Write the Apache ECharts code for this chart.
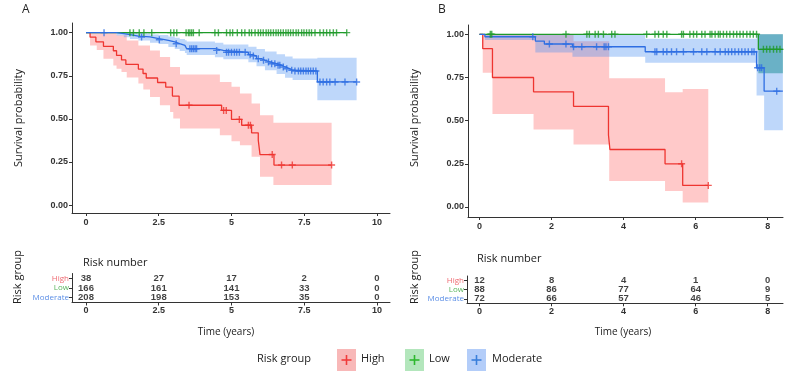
<!DOCTYPE html>
<html><head><meta charset="utf-8">
<script src="https://cdn.jsdelivr.net/npm/echarts@6/dist/echarts.min.js"></script>
<style>html,body{margin:0;padding:0;background:#fff}#c{width:802px;height:385px}</style>
</head><body><div id="c"></div>
<script>
// ===================== DATA =====================
const groups = ['High', 'Low', 'Moderate'];
const yTicks = [0, 0.25, 0.5, 0.75, 1];
const aXTicks = [0, 2.5, 5, 7.5, 10];
const bXTicks = [0, 2, 4, 6, 8];

// ---- Panel A ----
const aHighT = [0, 0.14, 0.34, 0.60, 0.94, 1.05, 1.22, 1.37, 1.80, 1.96, 2.07, 2.46, 2.74, 2.97, 3.20, 4.66, 5.00, 5.35, 5.69, 5.92, 5.98, 6.46, 8.44];
const aHighS = [1, 0.974, 0.947, 0.921, 0.895, 0.868, 0.842, 0.816, 0.789, 0.763, 0.737, 0.711, 0.684, 0.632, 0.579, 0.549, 0.497, 0.463, 0.419, 0.376, 0.293, 0.232, 0.232];
const aHighCens = [3.54, 4.73, 4.82, 5.27, 5.58, 5.65, 6.40, 6.72, 7.09, 8.44];
const aHighBandT = [0.14, 0.37, 0.60, 0.94, 1.05, 1.22, 1.40, 1.80, 1.97, 2.20, 2.54, 2.89, 3.00, 3.23, 4.60, 5.00, 5.29, 5.69, 5.98, 6.44, 8.44];
const aHighBandLo = [0.926, 0.90, 0.849, 0.81, 0.79, 0.772, 0.74, 0.705, 0.67, 0.627, 0.579, 0.54, 0.502, 0.444, 0.405, 0.37, 0.347, 0.28, 0.164, 0.116];
const aHighBandHi = [1, 1, 1, 1, 0.985, 0.985, 0.955, 0.926, 0.926, 0.897, 0.859, 0.801, 0.801, 0.757, 0.714, 0.686, 0.647, 0.589, 0.521, 0.477];

const aLowT = [0, 8.96];
const aLowS = [1, 1];
const aLowCens = [1.51, 1.63, 1.83, 1.99, 2.26, 2.91, 3.02, 3.12, 3.44, 3.52, 3.57, 3.63, 3.69, 3.89, 4.43, 4.55, 4.83, 4.95, 5.04, 5.20, 5.35, 5.46, 5.61, 5.69, 5.81, 5.92, 6.00, 6.09, 6.19, 6.27, 6.35, 6.44, 6.53, 6.61, 6.69, 6.78, 6.87, 6.95, 7.03, 7.12, 7.22, 7.30, 7.41, 7.49, 7.58, 7.67, 7.75, 7.87, 8.04, 8.16, 8.27, 8.38, 8.50, 8.61, 8.96];

const aModT = [0, 1.05, 1.30, 1.51, 1.80, 2.20, 2.50, 2.70, 2.83, 3.05, 3.22, 3.40, 3.46, 4.43, 4.72, 5.58, 5.70, 5.86, 6.03, 6.15, 6.32, 6.55, 6.72, 6.84, 7.00, 7.10, 7.95, 9.30];
const aModS = [1, 0.994, 0.988, 0.980, 0.975, 0.965, 0.959, 0.955, 0.946, 0.936, 0.926, 0.917, 0.907, 0.897, 0.886, 0.872, 0.865, 0.849, 0.840, 0.830, 0.820, 0.811, 0.801, 0.791, 0.782, 0.778, 0.714, 0.714];
const aModCens = [0.62, 1.91, 2.52, 3.10, 3.57, 3.63, 3.69, 3.75, 3.80, 4.49, 4.83, 4.90, 5.00, 5.10, 5.18, 5.27, 5.47, 5.64, 5.75, 5.92, 6.10, 6.27, 6.38, 6.49, 6.60, 6.66, 6.78, 6.90, 7.07, 7.18, 7.30, 7.38, 7.47, 7.56, 7.64, 7.72, 7.81, 7.90, 8.04, 8.15, 8.27, 8.38, 8.56, 8.90, 9.30];
const aModBandT = [1.05, 1.30, 1.51, 1.80, 2.20, 2.50, 2.83, 3.05, 3.22, 3.40, 3.46, 4.43, 4.72, 5.58, 5.86, 6.15, 6.55, 6.84, 7.10, 7.95, 9.30];
const aModBandLo = [0.983, 0.973, 0.963, 0.955, 0.942, 0.934, 0.917, 0.905, 0.893, 0.882, 0.870, 0.858, 0.846, 0.828, 0.805, 0.782, 0.760, 0.738, 0.725, 0.608];
const aModBandHi = [1.0, 1.0, 0.998, 0.995, 0.99, 0.986, 0.978, 0.971, 0.963, 0.956, 0.949, 0.941, 0.932, 0.918, 0.905, 0.89, 0.875, 0.862, 0.85, 0.855];

// ---- Panel B ----
const bHighT = [0, 0.09, 0.36, 1.50, 2.61, 3.58, 3.62, 5.15, 5.64, 6.35];
const bHighS = [1, 0.917, 0.75, 0.667, 0.583, 0.417, 0.333, 0.25, 0.125, 0.125];
const bHighCens = [5.61, 6.35];
const bHighBandT = [0.09, 0.36, 1.50, 2.61, 3.60, 5.15, 5.64, 6.35];
const bHighBandLo = [0.777, 0.538, 0.449, 0.362, 0.151, 0.093, 0.026];
const bHighBandHi = [1.0, 1.0, 1.0, 0.96, 0.745, 0.665, 0.683];

const bLowT = [0, 7.74, 8.42];
const bLowS = [1, 0.913, 0.913];
const bLowCens = [0.30, 0.34, 2.40, 2.98, 3.05, 3.21, 3.30, 3.44, 3.67, 3.76, 4.64, 4.87, 4.97, 5.10, 5.20, 5.61, 5.66, 5.84, 5.94, 6.03, 6.17, 6.26, 6.40, 6.45, 6.54, 6.63, 6.68, 6.77, 6.86, 6.95, 7.05, 7.14, 7.23, 7.32, 7.42, 7.51, 7.60, 7.69, 7.88, 7.97, 8.06, 8.16, 8.25, 8.34];
const bLowBandT = [7.74, 8.42];
const bLowBandLo = [0.774];
const bLowBandHi = [1.0];

const bModT = [0, 0.15, 1.55, 1.80, 2.58, 4.60, 7.69, 7.90, 8.42];
const bModS = [1, 0.986, 0.961, 0.944, 0.928, 0.899, 0.806, 0.671, 0.671];
const bModCens = [1.48, 1.94, 2.40, 2.61, 2.84, 3.25, 3.46, 3.51, 3.58, 4.87, 4.92, 5.10, 5.20, 5.33, 5.47, 5.66, 5.94, 6.17, 6.31, 6.54, 6.68, 6.82, 6.91, 7.00, 7.09, 7.19, 7.28, 7.37, 7.46, 7.56, 7.62, 7.72, 7.78, 7.83, 8.25];
const bModBandT = [0.15, 1.55, 2.58, 4.60, 7.69, 7.90, 8.42];
const bModBandLo = [0.967, 0.895, 0.870, 0.835, 0.645, 0.445];
const bModBandHi = [1.0, 1.0, 1.0, 0.975, 1.0, 1.0];

// ---- Risk tables ----
const aRiskTimes = [0, 2.5, 5, 7.5, 10];
const aRiskHigh = [38, 27, 17, 2, 0];
const aRiskLow = [166, 161, 141, 33, 0];
const aRiskMod = [208, 198, 153, 35, 0];
const bRiskTimes = [0, 2, 4, 6, 8];
const bRiskHigh = [12, 8, 4, 1, 0];
const bRiskLow = [88, 86, 77, 64, 9];
const bRiskMod = [72, 66, 57, 46, 5];

// ===================== STYLE =====================
const LINE = {High: '#EE3530', Low: '#1F9A2A', Moderate: '#2E6EE2'};
const BAND = {High: 'rgba(255,100,100,0.35)', Low: 'rgba(20,150,110,0.55)', Moderate: 'rgba(70,140,240,0.35)'};
const KEYFILL = {High: '#F8B8B8', Low: '#B3E6BC', Moderate: '#B3CDF9'};
const KEYPLUS = {High: '#F03C3C', Low: '#2EB82E', Moderate: '#3A7FDB'};
const LABELC = {High: '#EF6A72', Low: '#5AB55E', Moderate: '#5B8EE6'};
const PLUS = 'path://M4,0H6V4H10V6H6V10H4V6H0V4H4Z';
const AX = '#333';
const tickFont = {fontSize: 9, fontWeight: 'bold', color: '#333', fontFamily: "'Liberation Sans', Arial, sans-serif"};
const tableFont = "'Liberation Sans Narrow','Liberation Sans', Arial, sans-serif";
const textFont = "'Open Sans','Noto Sans', sans-serif";

function steps(T, S) { return T.map((t, i) => [t, S[i]]); }
function survAt(T, S, t) { let v = S[0]; for (let i = 0; i < T.length; i++) { if (T[i] <= t + 1e-9) v = S[i]; } return v; }
function bandRender(T, lo, hi, color) {
  return function (params, api) {
    const pts = [];
    for (let i = 0; i < lo.length; i++) { pts.push(api.coord([T[i], hi[i]])); pts.push(api.coord([T[i + 1], hi[i]])); }
    for (let i = lo.length - 1; i >= 0; i--) { pts.push(api.coord([T[i + 1], lo[i]])); pts.push(api.coord([T[i], lo[i]])); }
    return {type: 'polygon', shape: {points: pts}, style: {fill: color}};
  };
}

const series = [];
function addPanel(idx, spec) {
  spec.forEach(g => {
    if (!g.bandT) return;
    series.push({type: 'custom', xAxisIndex: idx, yAxisIndex: idx, data: [[0, 0]], silent: true, z: 1, clip: true,
      renderItem: bandRender(g.bandT, g.bandLo, g.bandHi, BAND[g.name])});
  });
  spec.forEach(g => {
    series.push({type: 'line', name: g.name, xAxisIndex: idx, yAxisIndex: idx, data: steps(g.T, g.S), step: 'end',
      showSymbol: false, symbol: 'none', z: 2, lineStyle: {color: LINE[g.name], width: 1.3}, itemStyle: {color: LINE[g.name]}});
  });
  spec.forEach(g => {
    series.push({type: 'scatter', xAxisIndex: idx, yAxisIndex: idx, symbol: PLUS, symbolSize: 7, z: 3,
      itemStyle: {color: LINE[g.name]}, data: g.C.map(t => [t, survAt(g.T, g.S, t)])});
  });
}
addPanel(0, [
  {name: 'High', T: aHighT, S: aHighS, C: aHighCens, bandT: aHighBandT, bandLo: aHighBandLo, bandHi: aHighBandHi},
  {name: 'Low', T: aLowT, S: aLowS, C: aLowCens},
  {name: 'Moderate', T: aModT, S: aModS, C: aModCens, bandT: aModBandT, bandLo: aModBandLo, bandHi: aModBandHi}
]);
addPanel(1, [
  {name: 'High', T: bHighT, S: bHighS, C: bHighCens, bandT: bHighBandT, bandLo: bHighBandLo, bandHi: bHighBandHi},
  {name: 'Low', T: bLowT, S: bLowS, C: bLowCens, bandT: bLowBandT, bandLo: bLowBandLo, bandHi: bLowBandHi},
  {name: 'Moderate', T: bModT, S: bModS, C: bModCens, bandT: bModBandT, bandLo: bModBandLo, bandHi: bModBandHi}
]);
function addTable(idx, times, rows) {
  rows.forEach(r => {
    series.push({type: 'scatter', xAxisIndex: idx, yAxisIndex: idx, symbolSize: 1, itemStyle: {color: 'rgba(0,0,0,0)'},
      data: times.map((t, i) => [t, r.name, r.n[i]]),
      label: {show: true, position: 'inside', formatter: p => String(p.value[2]), fontSize: 9.5, fontWeight: 'bold',
        color: '#111', fontFamily: tableFont}});
  });
}
addTable(2, aRiskTimes, [{name: 'High', n: aRiskHigh}, {name: 'Low', n: aRiskLow}, {name: 'Moderate', n: aRiskMod}]);
addTable(3, bRiskTimes, [{name: 'High', n: bRiskHigh}, {name: 'Low', n: bRiskLow}, {name: 'Moderate', n: bRiskMod}]);

function xAxisCfg(gi, min, max, ticks, table) {
  return {type: 'value', gridIndex: gi, min: min, max: max, splitLine: {show: false},
    axisLine: {show: true, onZero: false, lineStyle: {color: AX, width: 1}},
    axisTick: {show: true, customValues: ticks, length: 3, lineStyle: {color: AX}},
    axisLabel: Object.assign({customValues: ticks, margin: table ? 4 : 5, formatter: v => String(v)}, tickFont,
      table ? {fontFamily: tableFont} : {})};
}
function yAxisCfg(gi, min, max) {
  return {type: 'value', gridIndex: gi, min: min, max: max, splitLine: {show: false},
    axisLine: {show: true, onZero: false, lineStyle: {color: AX, width: 1}},
    axisTick: {show: true, customValues: yTicks, length: 3, lineStyle: {color: AX}},
    axisLabel: Object.assign({customValues: yTicks, margin: 4, formatter: v => v.toFixed(2)}, tickFont)};
}
function catAxisCfg(gi) {
  return {type: 'category', gridIndex: gi, data: groups, inverse: true,
    axisLine: {show: true, onZero: false, lineStyle: {color: AX, width: 1}},
    axisTick: {show: true, alignWithLabel: true, interval: 0, length: 3, lineStyle: {color: AX}},
    axisLabel: {margin: 3, interval: 0, hideOverlap: false, fontSize: 8, fontFamily: textFont, color: v => LABELC[v]}};
}

const legendItems = [
  {name: 'High', x: 337, tx: 361},
  {name: 'Low', x: 405, tx: 429},
  {name: 'Moderate', x: 467, tx: 492}
];
const graphic = [
  {type: 'text', x: 22, y: 4, style: {text: 'A', fontSize: 12, fontFamily: textFont, fill: '#222'}},
  {type: 'text', x: 438, y: 4, style: {text: 'B', fontSize: 12, fontFamily: textFont, fill: '#222'}},
  {type: 'text', x: 19, y: 118, rotation: Math.PI / 2, style: {text: 'Survival probability', fontSize: 11, fontFamily: textFont, fill: '#222', align: 'center', verticalAlign: 'middle'}},
  {type: 'text', x: 415, y: 118, rotation: Math.PI / 2, style: {text: 'Survival probability', fontSize: 11, fontFamily: textFont, fill: '#222', align: 'center', verticalAlign: 'middle'}},
  {type: 'text', x: 18, y: 277, rotation: Math.PI / 2, style: {text: 'Risk group', fontSize: 11, fontFamily: textFont, fill: '#222', align: 'center', verticalAlign: 'middle'}},
  {type: 'text', x: 415, y: 277, rotation: Math.PI / 2, style: {text: 'Risk group', fontSize: 11, fontFamily: textFont, fill: '#222', align: 'center', verticalAlign: 'middle'}},
  {type: 'text', x: 83, y: 263, style: {text: 'Risk number', fontSize: 11, fontFamily: textFont, fill: '#222', align: 'left', verticalAlign: 'middle'}},
  {type: 'text', x: 477, y: 259, style: {text: 'Risk number', fontSize: 11, fontFamily: textFont, fill: '#222', align: 'left', verticalAlign: 'middle'}},
  {type: 'text', x: 226, y: 332, style: {text: 'Time (years)', fontSize: 10, fontFamily: textFont, fill: '#222', align: 'center', verticalAlign: 'middle'}},
  {type: 'text', x: 623, y: 332, style: {text: 'Time (years)', fontSize: 10, fontFamily: textFont, fill: '#222', align: 'center', verticalAlign: 'middle'}},
  {type: 'text', x: 257, y: 359, style: {text: 'Risk group', fontSize: 11, fontFamily: textFont, fill: '#222', align: 'left', verticalAlign: 'middle'}}
];
legendItems.forEach(it => {
  graphic.push({type: 'rect', shape: {x: it.x, y: 349, width: 19, height: 22}, style: {fill: KEYFILL[it.name]}});
  graphic.push({type: 'rect', shape: {x: it.x + 4.5, y: 359.2, width: 10, height: 1.6}, style: {fill: KEYPLUS[it.name]}});
  graphic.push({type: 'rect', shape: {x: it.x + 8.7, y: 355, width: 1.6, height: 10}, style: {fill: KEYPLUS[it.name]}});
  graphic.push({type: 'text', x: it.tx, y: 359, style: {text: it.name, fontSize: 11, fontFamily: textFont, fill: '#222', align: 'left', verticalAlign: 'middle'}});
});

const option = {
  animation: false,
  backgroundColor: '#fff',
  grid: [
    {left: 72, top: 23, width: 318, height: 190},
    {left: 468, top: 25, width: 315, height: 192},
    {left: 72, top: 273.5, width: 318, height: 29},
    {left: 467, top: 276, width: 316, height: 27.3}
  ],
  xAxis: [
    xAxisCfg(0, -0.481, 10.447, aXTicks, false),
    xAxisCfg(1, -0.319, 8.424, bXTicks, false),
    xAxisCfg(2, -0.481, 10.447, aXTicks, true),
    xAxisCfg(3, -0.347, 8.424, bXTicks, true)
  ],
  yAxis: [
    yAxisCfg(0, -0.046, 1.056),
    yAxisCfg(1, -0.058, 1.054),
    catAxisCfg(2),
    catAxisCfg(3)
  ],
  series: series,
  graphic: graphic
};
const chart = echarts.init(document.getElementById('c'));
chart.setOption(option);
</script>
</body></html>
